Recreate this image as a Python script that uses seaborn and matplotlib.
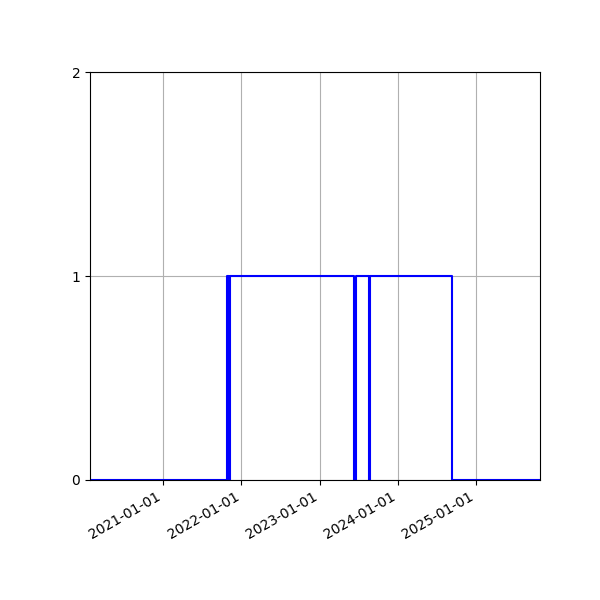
import numpy as np
import pandas as pd

import matplotlib
matplotlib.use('Agg')
import matplotlib.pyplot as plt
import matplotlib.dates as mdates
import seaborn as sns

# state changes (date when the new state starts)
change_dates = ['2020-01-26', '2021-10-27', '2021-11-03', '2021-11-10',
                '2023-06-10', '2023-06-18', '2023-08-18', '2023-08-26',
                '2024-09-10', '2025-10-26']
states = [0, 1, 0, 1, 0, 1, 0, 1, 0, 0]

df = pd.DataFrame({'date': pd.to_datetime(change_dates), 'state': states})

fig, ax = plt.subplots(figsize=(6, 6), dpi=100)
sns.lineplot(data=df, x='date', y='state', ax=ax, color='blue',
             drawstyle='steps-post', linewidth=1.5)

ax.set_xlim(df['date'].min(), df['date'].max())
ax.set_ylim(0, 2)
ax.set_yticks([0, 1, 2])
ax.xaxis.set_major_locator(mdates.YearLocator())
ax.xaxis.set_major_formatter(mdates.DateFormatter('%Y-%m-%d'))
ax.set_xlabel('')
ax.set_ylabel('')
ax.grid(True)
fig.autofmt_xdate()
fig.subplots_adjust(left=0.15, right=0.9, top=0.88, bottom=0.2)

fig.savefig('out.png')
